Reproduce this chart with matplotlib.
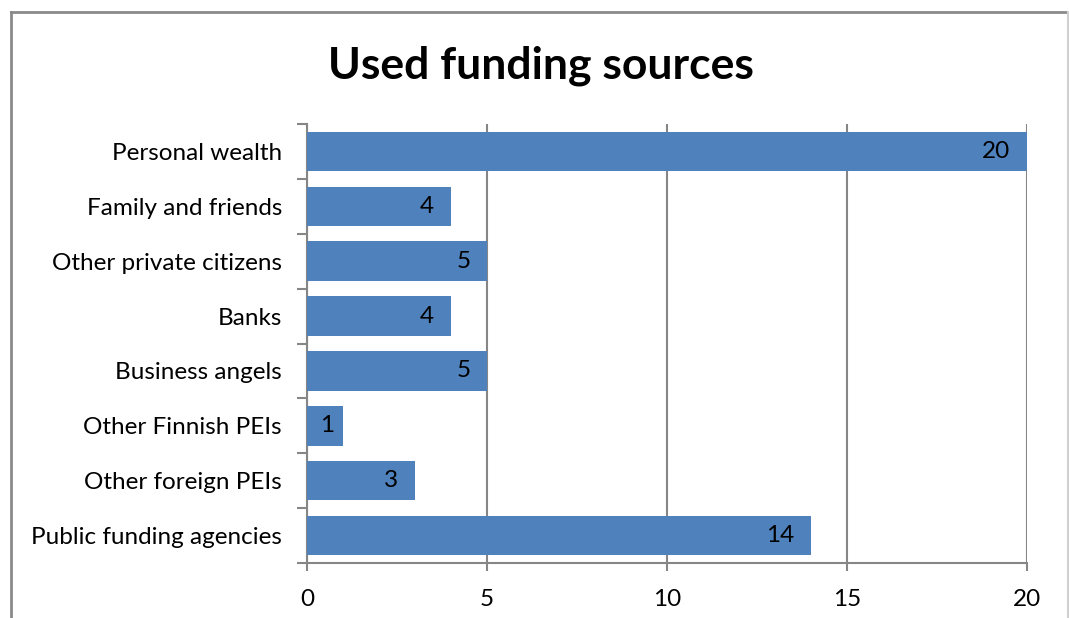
import numpy as np
import matplotlib.pyplot as plt
from matplotlib.ticker import FixedLocator
from matplotlib.lines import Line2D

# data
categories = ["Personal wealth", "Family and friends", "Other private citizens",
              "Banks", "Business angels", "Other Finnish PEIs",
              "Other foreign PEIs", "Public funding agencies"]
values = [20, 4, 5, 4, 5, 1, 3, 14]
x_ticks = [0, 5, 10, 15, 20]

bar_color = "#4F81BD"
grid_color = "#868686"
font = ["Lato", "DejaVu Sans"]
fs = 17.5

fig = plt.figure(figsize=(10.69, 6.18), dpi=100)
ax = fig.add_axes([307 / 1069, 1 - 563 / 618, 720 / 1069, 439 / 618])

y = np.arange(len(categories))
bars = ax.barh(y, values, height=0.72, color=bar_color, zorder=3)
ax.set_ylim(len(categories) - 0.5, -0.5)
ax.set_xlim(0, 20)

# value labels inside bar ends
for b, v in zip(bars, values):
    off = -12 if v > 1 else -6
    ax.annotate(str(v), xy=(b.get_width(), b.get_y() + b.get_height() / 2),
                xytext=(off, 0), textcoords="offset points",
                ha="right", va="center", fontsize=fs, family=font,
                color="black", zorder=4)

# axes styling
ax.set_xticks(x_ticks)
ax.set_xticklabels([str(t) for t in x_ticks], fontsize=fs, family=font)
ax.tick_params(axis="x", direction="out", length=6, width=1.5, color=grid_color, pad=13)
ax.grid(axis="x", color=grid_color, linewidth=1.5, zorder=0)

ax.set_yticks(y)
ax.set_yticklabels(categories, fontsize=fs, family=font)
ax.tick_params(axis="y", which="major", length=0, pad=18)
ax.yaxis.set_minor_locator(FixedLocator(np.arange(-0.5, len(categories), 1)))
ax.tick_params(axis="y", which="minor", direction="out", length=7, width=1.5, color=grid_color)

for s in ["top", "right"]:
    ax.spines[s].set_visible(False)
for s in ["left", "bottom"]:
    ax.spines[s].set_color(grid_color)
    ax.spines[s].set_linewidth(1.5)

fig.text(541 / 1069, 1 - 66 / 618, "Used funding sources", ha="center", va="center",
         fontsize=32, fontweight="bold", family=font)

# chart border
fig.add_artist(Line2D([11 / 1069, 11 / 1069], [0, 1 - 12 / 618], color="#8a8a8a", lw=2))
fig.add_artist(Line2D([11 / 1069, 1068 / 1069], [1 - 12 / 618, 1 - 12 / 618], color="#8a8a8a", lw=2))
fig.add_artist(Line2D([1068 / 1069, 1068 / 1069], [0, 1 - 12 / 618], color="#d0d0d0", lw=1.5))

fig.savefig("out.png", dpi=100)
